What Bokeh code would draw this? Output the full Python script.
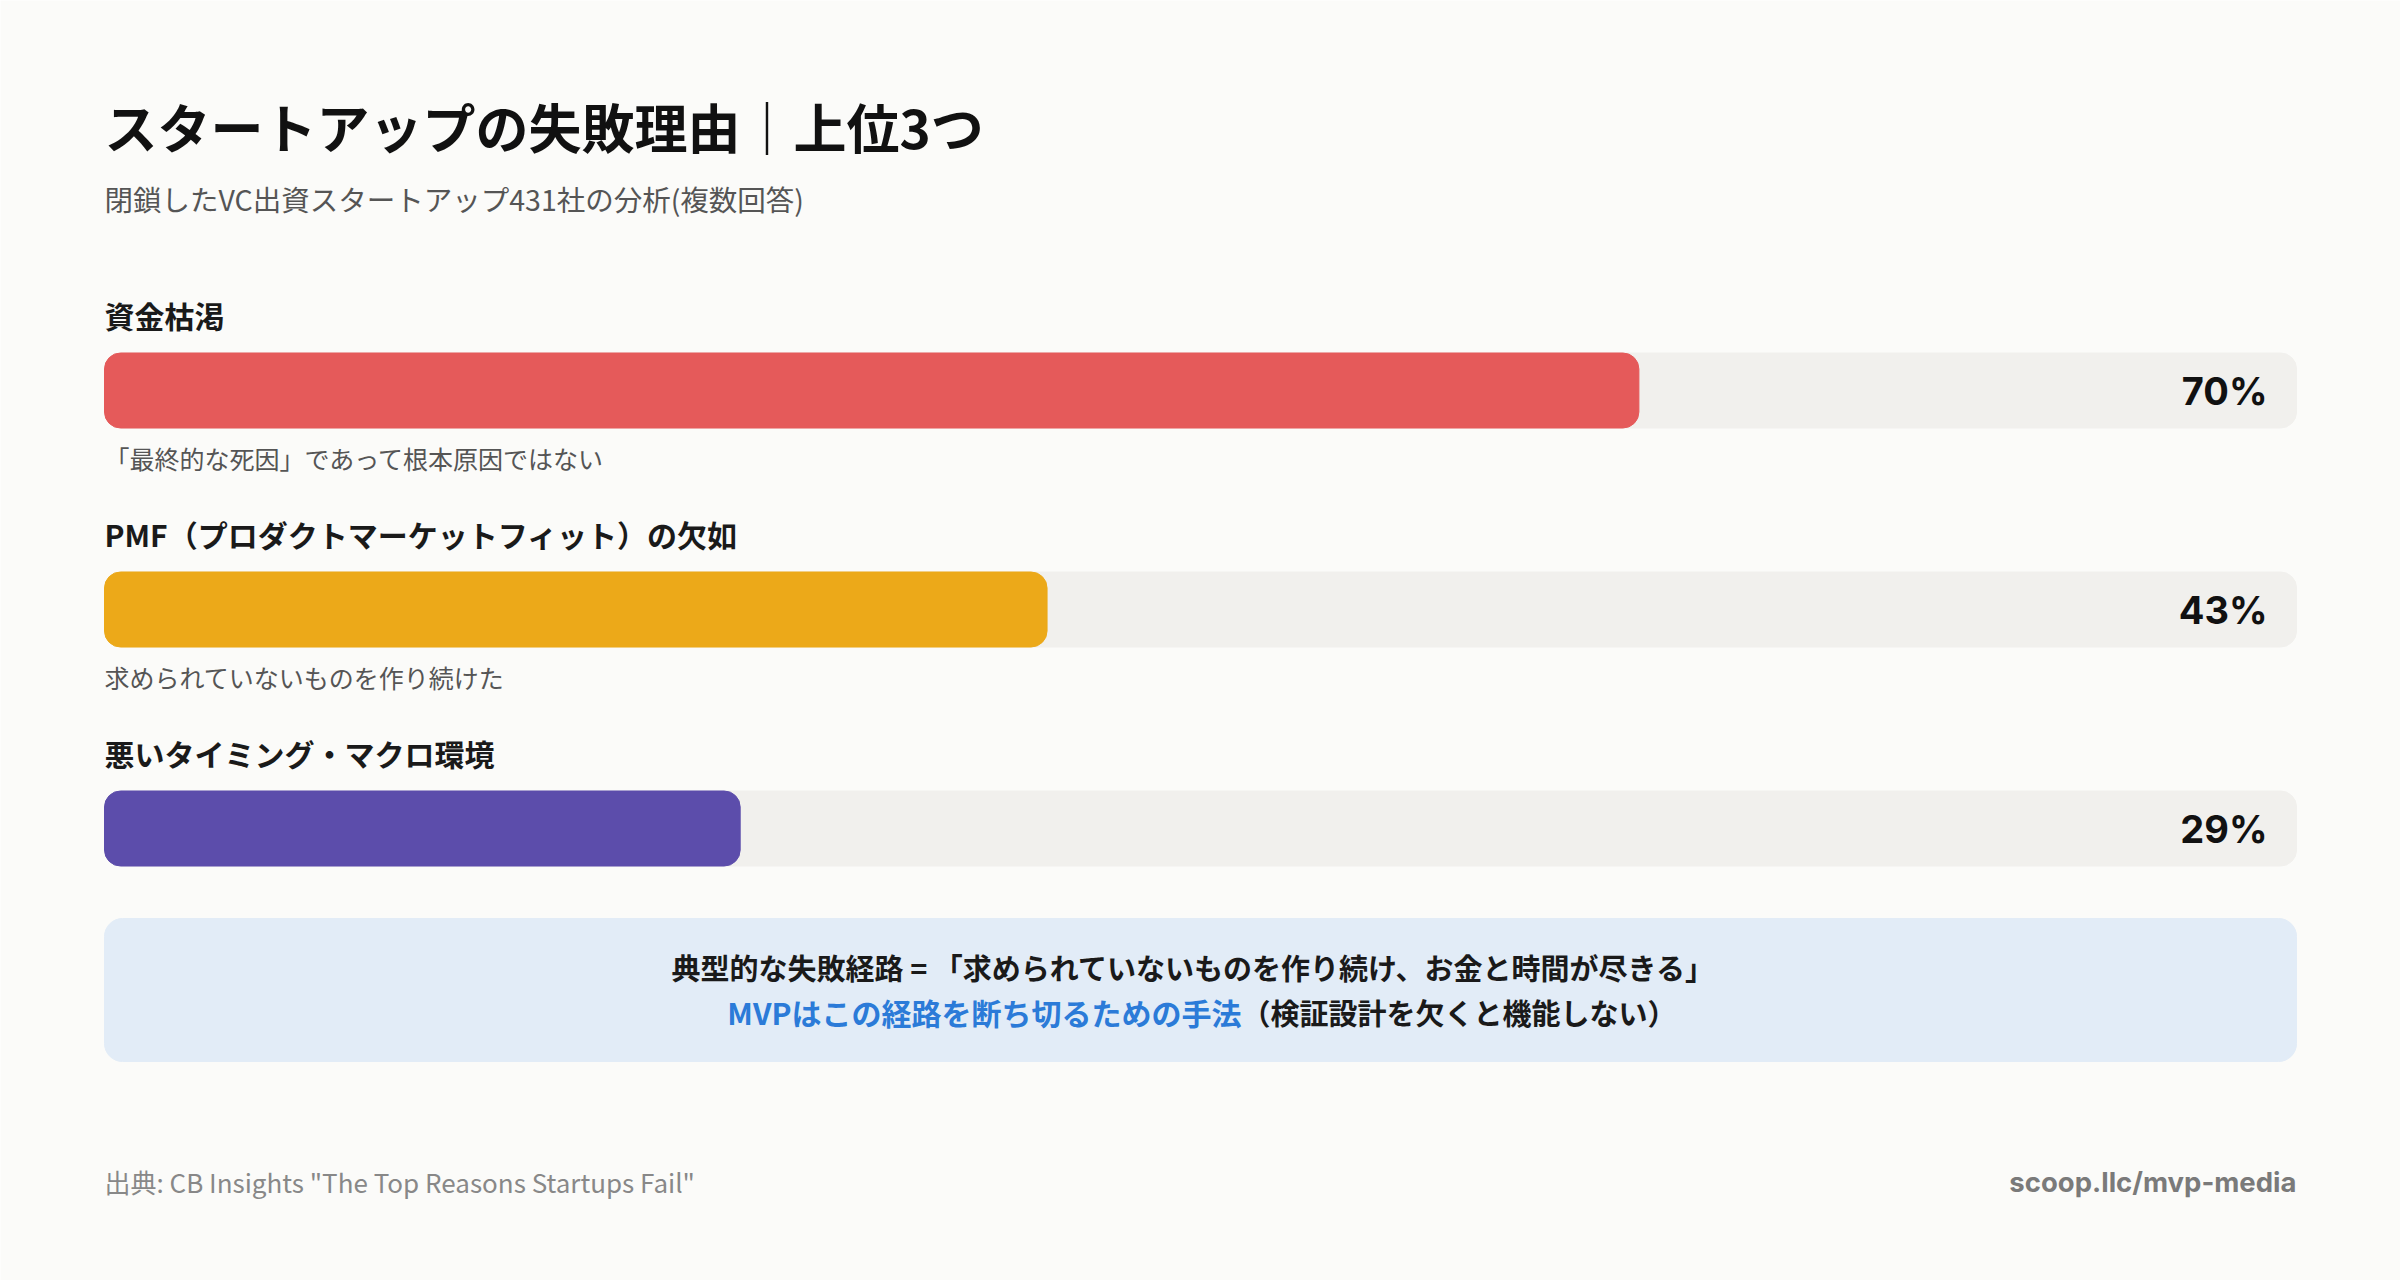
from bokeh.plotting import figure
from bokeh.models import Range1d
from bokeh.core.properties import value
from bokeh.embed import file_html
from bokeh.resources import INLINE

# ---- data ----
categories = ["資金枯渇", "PMF（プロダクトマーケットフィット）の欠如", "悪いタイミング・マクロ環境"]
values = [70, 43, 29]
notes = ["「最終的な死因」であって根本原因ではない", "求められていないものを作り続けた", ""]
pct_labels = [f"{v}%" for v in values]

title = "スタートアップの失敗理由｜上位3つ"
subtitle = "閉鎖したVC出資スタートアップ431社の分析(複数回答)"
callout_1 = "典型的な失敗経路 = 「求められていないものを作り続け、お金と時間が尽きる」"
callout_2a = "MVPはこの経路を断ち切るための手法"
callout_2b = "（検証設計を欠くと機能しない）"
source = "出典: CB Insights \"The Top Reasons Startups Fail\""
site = "scoop.llc/mvp-media"

# ---- styles ----
bar_colors = ["#e55a5a", "#eca919", "#5c4dab"]
track_color = "#f1f0ed"
bg = "#fbfbf9"
JP = value("Noto Sans CJK JP")

W, H = 2400, 1280
left_px, track_px = 104, 2192
scale = track_px / 100.0

p = figure(width=W, height=H, output_backend="svg", toolbar_location=None,
           x_range=Range1d(-left_px / scale, (W - left_px) / scale),
           y_range=Range1d(H, 0), min_border=0)
p.axis.visible = False
p.grid.visible = False
p.outline_line_color = None
p.background_fill_color = bg
p.border_fill_color = bg

row0, step = 390, 219
bar_y = [row0 + i * step for i in range(len(values))]
label_y = [y - 76 for y in bar_y]
note_y = [y + 67 for y in bar_y]

# tracks
p.hbar(y=bar_y, left=0, right=100, height=75, color=track_color, border_radius=16)
# bars
p.hbar(y=bar_y, left=0, right=values, height=75, color=bar_colors, border_radius=16)

# title / subtitle
p.text(x=[0], y=[125], text=[title], text_font=JP, text_font_style="bold",
       text_font_size="53px", text_color="#111111", text_baseline="middle")
p.text(x=[0], y=[198], text=[subtitle], text_font=JP,
       text_font_size="28.5px", text_color="#555555", text_baseline="middle")

# category labels
p.text(x=[0] * len(categories), y=label_y, text=categories, text_font=JP,
       text_font_style="bold", text_font_size="30px", text_color="#1a1a1a",
       text_baseline="middle")
# notes
p.text(x=[0] * len(notes), y=note_y, text=notes, text_font=JP,
       text_font_size="25px", text_color="#555555", text_baseline="middle")
# percentages
p.text(x=[100 - 29 / scale] * len(values), y=bar_y, text=pct_labels,
       text_font=value("Inter"), text_font_style="bold", text_font_size="38px",
       text_color="#111111", text_baseline="middle", text_align="right")

# callout box
p.quad(left=0, right=100, top=918, bottom=1061, color="#e2ecf7", border_radius=18)
p.text(x=[(1193 - left_px) / scale], y=[966], text=[callout_1], text_font=JP,
       text_font_style="bold", text_font_size="29px", text_color="#1a1a1a",
       text_baseline="middle", text_align="center")
split = (1241 - left_px) / scale
p.text(x=[split], y=[1011], text=[callout_2a], text_font=JP, text_font_style="bold",
       text_font_size="30px", text_color="#2b7bd8", text_baseline="middle",
       text_align="right")
p.text(x=[split], y=[1011], text=[callout_2b], text_font=JP, text_font_style="bold",
       text_font_size="29px", text_color="#1a1a1a", text_baseline="middle",
       text_align="left")

# footer
p.text(x=[0], y=[1181], text=[source], text_font=JP, text_font_size="26px",
       text_color="#888888", text_baseline="middle")
p.text(x=[100], y=[1181], text=[site], text_font=value("Inter"),
       text_font_style="bold", text_font_size="27.5px", text_color="#7a7a7a",
       text_baseline="middle", text_align="right")

open("out.html", "w").write(file_html(p, INLINE))
